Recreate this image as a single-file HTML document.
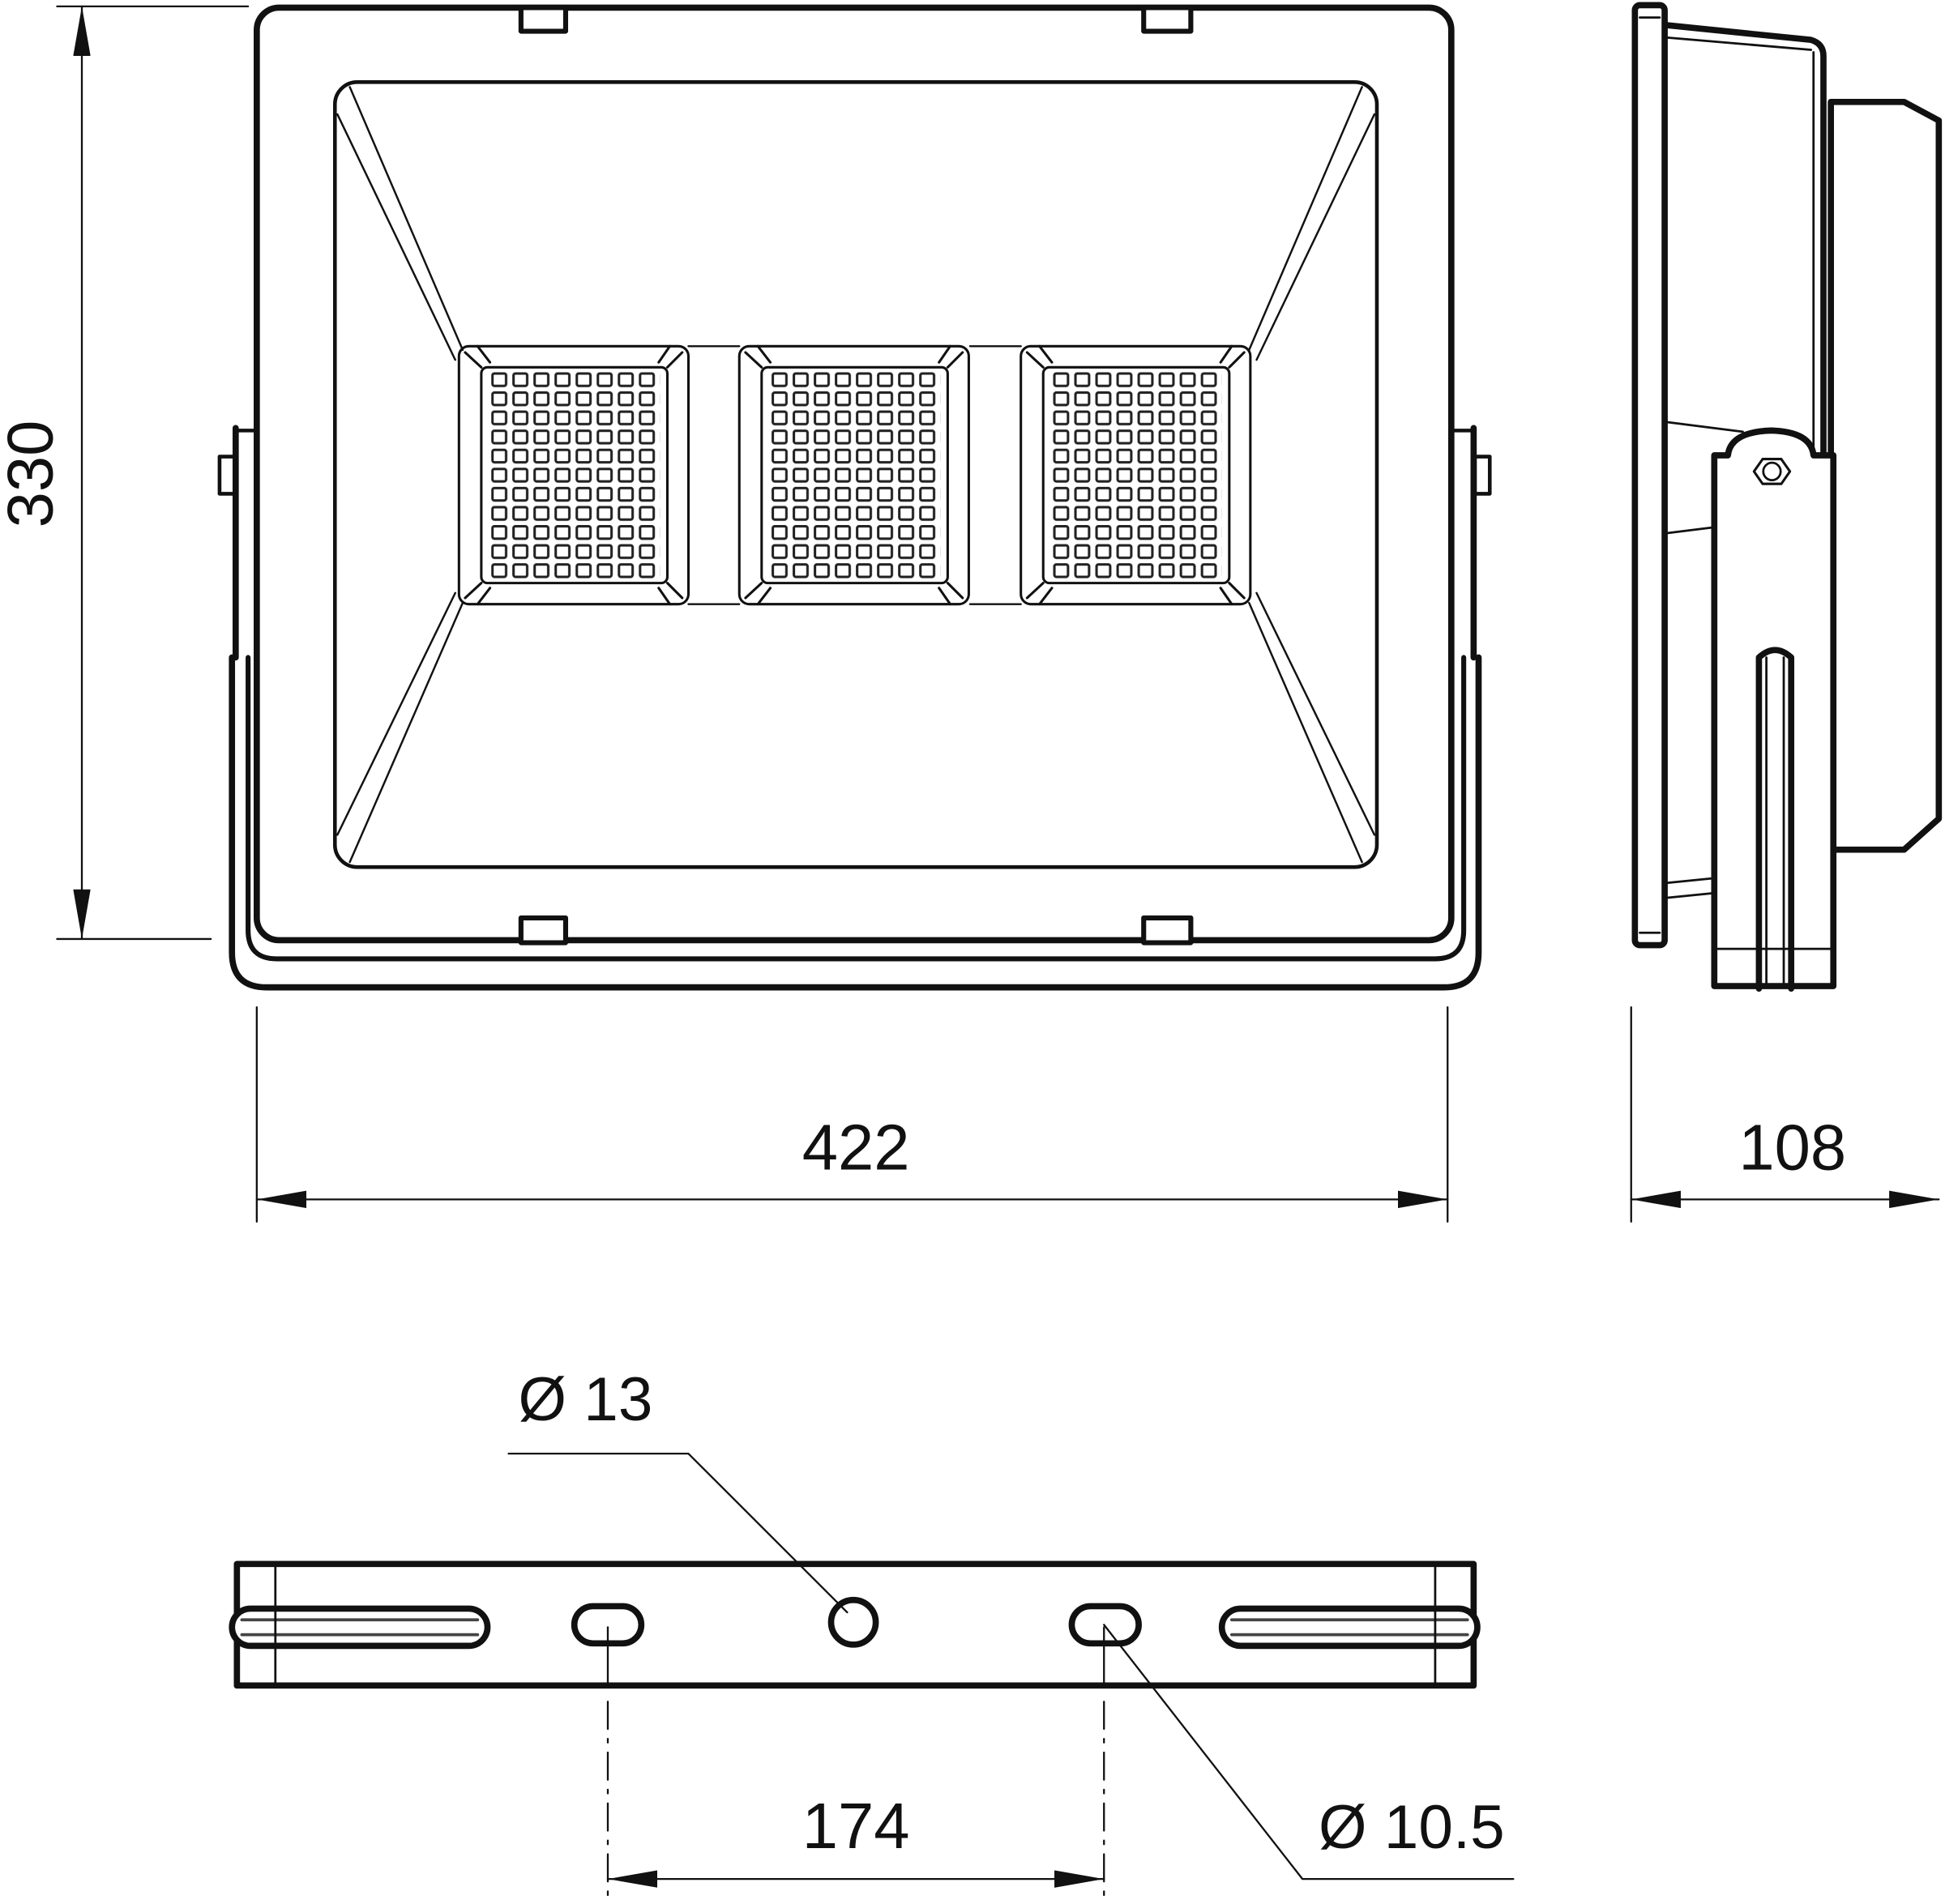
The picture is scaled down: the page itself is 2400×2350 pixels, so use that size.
<!DOCTYPE html>
<html><head><meta charset="utf-8"><style>
html,body{margin:0;padding:0;background:#fff;}
svg{display:block;}
text{font-family:"Liberation Sans","DejaVu Sans",sans-serif;fill:#111;}
</style></head><body>
<svg width="2400" height="2350" viewBox="0 0 1568 1535" xmlns="http://www.w3.org/2000/svg">
<defs>
<pattern id="led" x="396" y="300" width="17" height="15.4" patternUnits="userSpaceOnUse">
<rect x="1" y="1" width="11" height="10" fill="none" stroke="#222" stroke-width="2" rx="1.5"/>
</pattern>
<marker id="ar" viewBox="0 0 40 14" refX="40" refY="7" markerWidth="40" markerHeight="14" markerUnits="userSpaceOnUse" orient="auto-start-reverse">
<path d="M0,0 L40,7 L0,14 Z" fill="#111"/>
</marker>
</defs>
<g fill="none" stroke="#111" stroke-linejoin="round" stroke-linecap="round">
<!-- bracket U -->
<path d="M187,530 L187,768 Q187,796 215,796 L1164,796 Q1192,796 1192,768 L1192,530" stroke-width="5"/>
<path d="M200,530 L200,750 Q200,773 223,773 L1157,773 Q1180,773 1180,750 L1180,530" stroke-width="4"/>
<path d="M190,345 L190,530 M1188,345 L1188,530" stroke-width="5"/>
<path d="M190,347 L207,347 M1172,347 L1188,347" stroke-width="3"/>
<rect x="177" y="368" width="12" height="30" stroke-width="3"/>
<rect x="1189" y="368" width="12" height="30" stroke-width="3"/>
<!-- outer frame -->
<rect x="207" y="6" width="963" height="752" rx="18" stroke-width="5" fill="#fff"/>
<rect x="420" y="6" width="36" height="19" stroke-width="4" fill="#fff"/>
<rect x="922" y="6" width="38" height="19" stroke-width="4" fill="#fff"/>
<rect x="420" y="740" width="36" height="20" stroke-width="4" fill="#fff"/>
<rect x="922" y="740" width="38" height="20" stroke-width="4" fill="#fff"/>
<!-- inner -->
<rect x="270" y="66" width="840" height="633" rx="18" stroke-width="3"/>
<g stroke-width="1.6">
<path d="M282,70 L373,282 M272,92 L367,290"/>
<path d="M1098,70 L1007,282 M1108,92 L1013,290"/>
<path d="M282,695 L373,486 M272,673 L367,478"/>
<path d="M1098,695 L1007,486 M1108,673 L1013,478"/>
<path d="M555,279 L596,279 M555,487 L596,487 M782,279 L823,279 M782,487 L823,487"/>
</g>
<!-- modules -->
<g stroke-width="2">
<g>
<rect x="370" y="279" width="185" height="208" rx="8"/>
<rect x="388" y="296" width="150" height="174" rx="5"/>
<path d="M375,284 L388,296 M385,279 L395,292 M550,284 L538,296 M540,279 L531,292 M375,482 L388,470 M385,487 L395,474 M550,482 L538,470 M540,487 L531,474"/>
<rect x="396" y="300" width="136" height="169" fill="url(#led)" stroke="none"/>
</g>
<g transform="translate(226,0)">
<rect x="370" y="279" width="185" height="208" rx="8"/>
<rect x="388" y="296" width="150" height="174" rx="5"/>
<path d="M375,284 L388,296 M385,279 L395,292 M550,284 L538,296 M540,279 L531,292 M375,482 L388,470 M385,487 L395,474 M550,482 L538,470 M540,487 L531,474"/>
<rect x="396" y="300" width="136" height="169" fill="url(#led)" stroke="none"/>
</g>
<g transform="translate(453,0)">
<rect x="370" y="279" width="185" height="208" rx="8"/>
<rect x="388" y="296" width="150" height="174" rx="5"/>
<path d="M375,284 L388,296 M385,279 L395,292 M550,284 L538,296 M540,279 L531,292 M375,482 L388,470 M385,487 L395,474 M550,482 L538,470 M540,487 L531,474"/>
<rect x="396" y="300" width="136" height="169" fill="url(#led)" stroke="none"/>
</g>
</g>

<!-- dimension lines -->
<g stroke-width="1.5">
<path d="M46,5 L200,5 M46,757 L170,757"/>
<line x1="66" y1="757" x2="66" y2="5" marker-end="url(#ar)" marker-start="url(#ar)"/>
<path d="M207,812 L207,985 M1167,812 L1167,985 M1315,812 L1315,985"/>
<line x1="207" y1="967" x2="1167" y2="967" marker-start="url(#ar)" marker-end="url(#ar)"/>
<line x1="1315" y1="967" x2="1563" y2="967" marker-start="url(#ar)" marker-end="url(#ar)"/>
</g>

<!-- side view -->
<path d="M1342,20 L1460,32 Q1470,35 1470,45 L1470,380" stroke-width="5"/>
<path d="M1342,30 L1460,40 M1462,42 L1462,380" stroke-width="1.8"/>
<path d="M1342,340 L1405,348 M1342,430 L1382,425 M1342,712 L1382,708 M1342,724 L1382,720" stroke-width="1.8"/>
<path d="M1476,82 L1535,82 L1563,97 L1563,660 L1535,685 L1476,685 L1476,82" stroke-width="5"/>
<rect x="1318" y="4" width="24" height="758" rx="4" stroke-width="5" fill="#fff"/>
<path d="M1322,14 L1338,14 M1322,752 L1338,752" stroke-width="1.8"/>
<!-- bracket side -->
<path d="M1382,795 L1382,367 L1393,367 Q1395,348 1428,347 Q1460,348 1462,367 L1478,367 L1478,795 Z" stroke-width="5" fill="#fff"/>
<path d="M1382,765 L1478,765" stroke-width="1.8"/>
<path d="M1418,797 L1418,530 Q1431,518 1444,530 L1444,797" stroke-width="5"/>
<path d="M1424,530 L1424,795 M1438,530 L1438,795" stroke-width="1.8"/>
<path d="M1414,380 L1421,370 L1436,370 L1443,380 L1436,390 L1421,390 Z" stroke-width="2"/>
<circle cx="1428.5" cy="380" r="7" stroke-width="1.8"/>

<!-- bottom bracket -->
<rect x="191" y="1261" width="997" height="98" stroke-width="5" fill="#fff"/>
<path d="M222,1263 L222,1358 M1157,1263 L1157,1358" stroke-width="1.8"/>
<rect x="187" y="1297" width="206" height="30" rx="15" stroke-width="5" fill="#fff"/>
<rect x="985" y="1297" width="206" height="30" rx="15" stroke-width="5" fill="#fff"/>
<path d="M195,1306 L385,1306 M195,1318 L385,1318 M993,1306 L1183,1306 M993,1318 L1183,1318" stroke-width="2.5" stroke="#444"/>
<path d="M222,1297 L222,1327 M1157,1297 L1157,1327" stroke-width="1.8"/>
<rect x="463" y="1295" width="54" height="30" rx="15" stroke-width="5"/>
<rect x="864" y="1295" width="54" height="30" rx="15" stroke-width="5"/>
<circle cx="688" cy="1308" r="18" stroke-width="5"/>
<g stroke-width="1.5">
<path d="M410,1172 L555,1172 L683,1300"/>
<path d="M890,1310 L1050,1515 L1220,1515"/>
<path d="M490,1312 L490,1360 M890,1312 L890,1360"/>
<path d="M490,1372 L490,1535 M890,1372 L890,1535" stroke-dasharray="22,8,3,8"/>
<line x1="490" y1="1515" x2="890" y2="1515" marker-start="url(#ar)" marker-end="url(#ar)"/>
</g>
</g>
<!-- texts -->
<text x="690" y="943" font-size="52" text-anchor="middle">422</text>
<text x="1445" y="943" font-size="52" text-anchor="middle">108</text>
<text transform="translate(42,382) rotate(-90)" font-size="52" text-anchor="middle">330</text>
<text x="472" y="1145" font-size="50" text-anchor="middle">Ø 13</text>
<text x="690" y="1490" font-size="52" text-anchor="middle">174</text>
<text x="1138" y="1490" font-size="50" text-anchor="middle">Ø 10.5</text>
</svg>
</body></html>
